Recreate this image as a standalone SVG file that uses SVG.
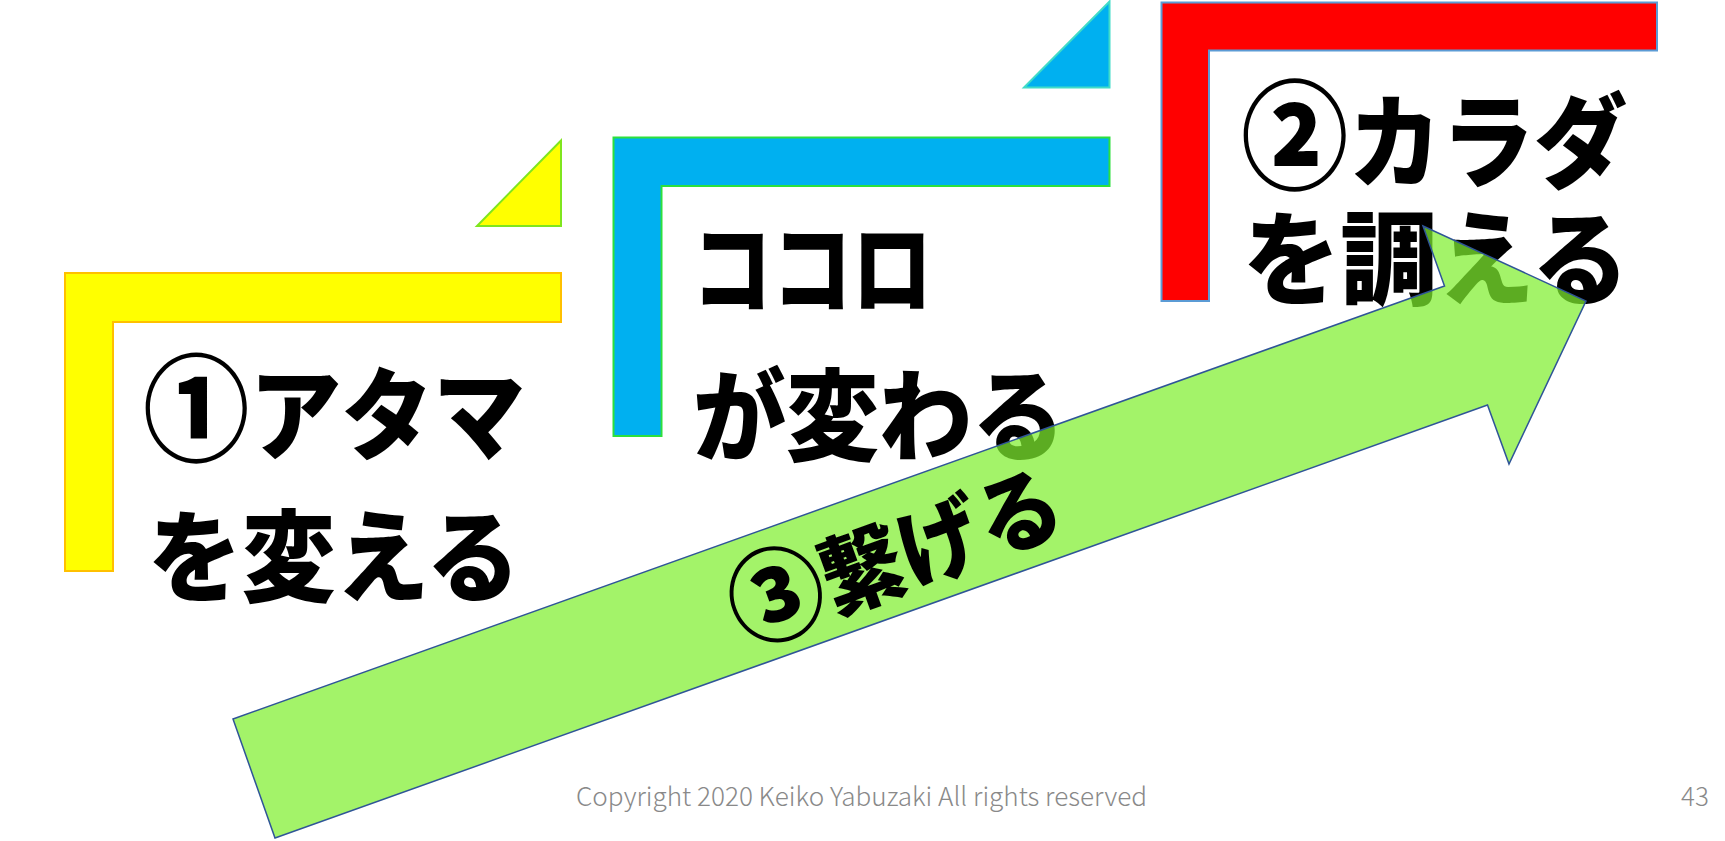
<svg xmlns="http://www.w3.org/2000/svg" width="1725" height="841" viewBox="0 0 1725 841">
<style>
.big{font-family:"Noto Sans CJK JP","Noto Sans CJK SC",sans-serif;font-weight:900;fill:#000;}
.foot{font-family:"Noto Sans CJK JP","Noto Sans",sans-serif;font-weight:300;fill:#898989;font-size:26px;}
</style>
<rect width="1725" height="841" fill="#fff"/>
<g id="step1">
<polygon points="65,273 561,273 561,322 113,322 113,571 65,571" fill="#FFFF00" stroke="#FFC000" stroke-width="2"/>
<polygon points="561,140.5 561,226 477,226" fill="#FFFF00" stroke="#7FE61E" stroke-width="2"/>
<text class="big" x="143" y="452" font-size="100" textLength="382" lengthAdjust="spacingAndGlyphs"><tspan font-size="116">①</tspan>アタマ</text>
<text class="big" x="148" y="594" font-size="100" textLength="372" lengthAdjust="spacingAndGlyphs">を変える</text>
</g>
<g id="step2">
<polygon points="613.5,137.5 1109.5,137.5 1109.5,186 661.5,186 661.5,436 613.5,436" fill="#00B0F0" stroke="#2CE03C" stroke-width="2"/>
<polygon points="1109.5,1.5 1109.5,87.5 1024,87.5" fill="#00B0F0" stroke="#40DCC8" stroke-width="2"/>
<text class="big" x="692" y="306" font-size="100" textLength="240" lengthAdjust="spacingAndGlyphs">ココロ</text>
<text class="big" x="693" y="453" font-size="100" textLength="372" lengthAdjust="spacingAndGlyphs">が変わる</text>
</g>
<g id="step3">
<polygon points="1161.5,2.5 1657,2.5 1657,50.5 1209,50.5 1209,301 1161.5,301" fill="#FF0000" stroke="#5B9BD5" stroke-width="2"/>
<text class="big" x="1241" y="180" font-size="102" textLength="386" lengthAdjust="spacingAndGlyphs"><tspan font-size="118">②</tspan>カラダ</text>
<text class="big" x="1243" y="297" font-size="102" textLength="386" lengthAdjust="spacingAndGlyphs">を調える</text>
</g>
<g id="connectors">
<g id="arrow">
<polygon points="233,719 1444.5,286 1423,226 1586,301 1509,464 1487.5,405 275,838" fill="#80EF2F" fill-opacity="0.72" stroke="#2F5597" stroke-width="1.5"/>
<text class="big" transform="translate(895,557) rotate(-20)" x="0" y="33" font-size="88" text-anchor="middle" textLength="346" lengthAdjust="spacingAndGlyphs"><tspan font-size="102">③</tspan>繋げる</text>
</g>
</g>
<g id="footer">
<text class="foot" x="576" y="806" textLength="571" lengthAdjust="spacingAndGlyphs">Copyright 2020 Keiko Yabuzaki All rights reserved</text>
<text class="foot" x="1681" y="806">43</text>
</g>
</svg>
